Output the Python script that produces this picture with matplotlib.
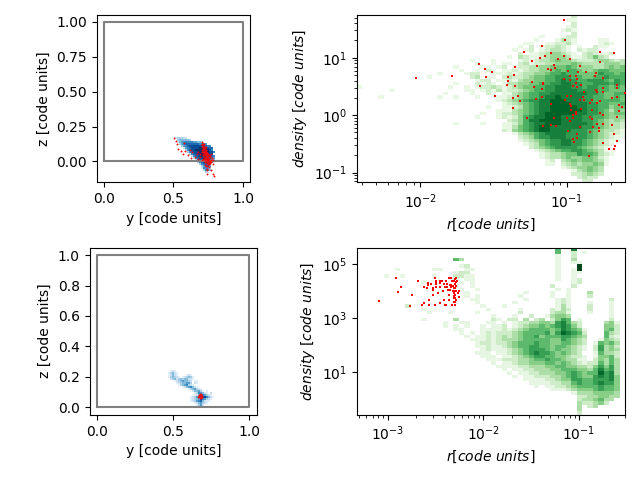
import numpy as np
from matplotlib import pyplot as plt
from matplotlib.ticker import NullLocator

# red particles, log10 values
top_y = [.506,.518,.528,.535,.552,.571,.578,.583,.607,.619,.631,.626,.655,.667,.679,.691,.703,.707,.707,.703,.715,.722,.727,.734,.691,.715,.739,.751,.767,.775,.782,.727,.739,.758,.782,.751,.715,.703,.743,.743,.787,.794,.727,.743,.767,.679,.715,.734,.722,.707,
         .711,.718,.725,.731,.737,.745,.712,.719,.728,.735,.742,.75,.76,.72,.73,.74,.75,.71,.725,.735,.745,.755,.765,.73,.74,.75,.76,.772,.735,.745,.755,
         .708,.714,.72,.726,.732,.738,.744,.716,.723,.729,.736,.743,.748,.754,.76,.741,.747,.753,.759,.765,.771]
top_z = [.168,.146,.122,.091,.074,.055,.132,.074,.043,.079,.067,.026,.031,.055,.067,.031,.139,.122,.103,.079,.091,.067,.043,.079,.055,.019,.031,.055,.055,.026,.012,-.005,-.012,-.017,-.017,.019,.043,.012,-.060,-.089,-.089,-.103,-.029,-.053,-.065,.019,.103,.103,.122,.067,
         .125,.11,.095,.085,.07,.06,.08,.06,.05,.04,.03,.04,.03,.02,.01,.02,.01,.07,.07,.065,.05,.045,.04,.0,-.005,.0,-.005,.01,-.03,-.035,-.04,
         .115,.1,.09,.075,.065,.055,.05,.045,.035,.025,.015,.008,.022,.014,.006,-.012,-.02,-.01,-.018,-.01,-.002]
top_log_r = [-2.03,-1.78,-1.60,-1.56,-1.55,-1.51,-1.59,-1.49,-1.41,-1.40,-1.40,-1.36,-1.35,-1.35,-1.37,-1.37,-1.33,-1.32,-1.29,-1.27,-1.24,-1.24,-1.22,-1.21,-1.20,-1.18,-1.17,-1.17,-1.17,-1.16,-1.16,-1.16,-1.15,-1.13,-1.11,-1.11,-1.11,-1.11,-1.09,-1.09,-1.08,-1.07,-1.06,-1.02,-1.02,-1.01,-1.02,-1.01,-1.00,-1.00,-0.99,-0.99,-0.98,-0.98,-0.98,-0.98,-0.98,-0.97,-0.97,-0.97,-0.96,-0.96,-0.96,-0.96,-0.95,-0.94,-0.94,-0.94,-0.94,-0.93,-0.93,-0.93,-0.93,-0.92,-0.91,-0.91,-0.91,-0.90,-0.90,-0.89,-0.88,-0.88,-0.87,-0.85,-0.84,-0.84,-0.84,-0.83,-0.83,-0.83,-0.82,-0.81,-0.80,-0.80,-0.79,-0.79,-0.79,-0.78,-0.78,-0.77,-0.77,-0.77,-0.77,-0.75,-0.75,-0.75,-0.75,-0.75,-0.75,-0.71,-0.69,-0.69,-0.68,-0.68,-0.68,-0.67,-0.66,-0.66,-0.66,-0.66,-0.66,-0.64,-0.64,-0.62,-0.60]
top_log_d = [.65,.69,.90,.81,.67,.76,.51,.34,.53,.67,.60,.70,.84,.51,.30,.13,.34,.25,1.10,-.05,.95,.58,.49,.28,.86,1.00,1.21,.46,.32,.56,.55,-.19,1.03,.81,.20,-.17,1.09,.79,.88,-.05,.83,-.19,.98,1.65,1.03,1.31,.63,.27,.34,-.05,-.27,.77,.97,.69,.62,.20,-.10,.34,.16,.09,-.05,.51,.01,-.41,-.47,.56,.69,.06,.02,.63,.49,-.33,-.40,.76,.86,-.20,.27,.53,.11,.32,.27,.41,.76,-.71,.22,-.03,-.29,.27,.09,-.06,-.20,.69,.74,.44,-.15,.41,.22,-.23,-.27,1.10,.04,.24,.93,.65,-.48,.48,.41,.01,-.15,-.59,.30,-.17,1.09,-.33,-.59,-.53,-.45,.48,.53,.32,-.03,.18,.08,.15,.39]

bot_y = [.672,.680,.665,.690,.675,.684,.670,.678,.686,.668,.674,.682]
bot_z = [.072,.078,.068,.070,.062,.084,.080,.066,.076,.074,.084,.062]
bot_log_r = [-3.09,-2.91,-2.86,-2.89,-2.77,-2.74,-2.68,-2.64,-2.62,-2.62,-2.59,-2.58,-2.58,-2.57,-2.57,-2.55,-2.53,-2.53,-2.52,-2.50,-2.50,-2.49,-2.49,-2.49,-2.49,-2.47,-2.45,-2.45,-2.45,-2.45,-2.43,-2.42,-2.41,-2.41,-2.40,-2.39,-2.39,-2.40,-2.38,-2.38,-2.37,-2.36,-2.36,-2.36,-2.35,-2.35,-2.34,-2.34,-2.34,-2.33,-2.33,-2.32,-2.32,-2.31,-2.31,-2.31,-2.31,-2.31,-2.31,-2.30,-2.30,-2.30,-2.30,-2.29,-2.29,-2.29,-2.29,-2.28,-2.28,-2.28,-2.28,-2.28,-2.27,-2.26,-2.25,-2.25]
bot_log_d = [3.64,4.47,4.14,3.95,3.43,3.83,4.35,3.46,3.57,4.16,4.10,4.28,4.21,3.68,3.46,4.27,3.83,4.10,4.02,3.46,4.47,4.38,4.33,4.27,4.14,3.91,4.14,4.38,4.28,3.57,4.38,3.99,4.27,3.68,4.14,4.35,3.49,3.46,4.14,4.27,4.02,3.68,3.86,4.47,4.23,4.05,4.47,4.23,4.14,4.36,3.46,3.99,4.17,4.35,4.09,3.93,3.80,3.74,3.59,4.42,4.26,4.11,3.99,3.46,3.59,3.74,3.86,4.47,4.33,4.17,4.01,3.68,4.38,3.93,3.78,3.99]

# gas maps: each row (top to bottom) is a list of (first column, levels 0-9)
blue_top = [
    [(1,"233322")],
    [(2,"3444443")],
    [(2,"2456666655443")],
    [(3,"35677777776665")],
    [(4,"356788888888766")],
    [(5,"256788889999877")],
    [(6,"36788999999986")],
    [(7,"36788999999886")],
    [(8,"367889999988")],
    [(9,"267889998876")],
    [(10,"26788988765")],
    [(11,"3677887654")],
    [(12,"367887652")],
    [(13,"367775")],
    [(14,"35775")],
    [(14,"26653")],
    [(15,"3654")],
    [(16,"32")],
]
blue_bot = [
    [(2,"121")],
    [(1,"13421")],
    [(0,"01242100001210")],
    [(1,"1343210123431")],
    [(2,"2342343442210")],
    [(3,"0123454432011")],
    [(3,"0012344553021")],
    [(5,"0134563210")],
    [(7,"0124564210")],
    [(11,"1345321")],
    [(13,"24453101")],
    [(14,"136542102")],
    [(13,"0124665321")],
    [(12,"1235578864210")],
    [(11,"012345865321")],
    [(12,"1235674211")],
    [(13,"01245321")],
    [(15,"1352")],
    [(17,"41")],
]

green_top = [
    [(40,"2")],
    [(39,"11")],
    [(40,"2")],
    [(39,"12")],
    [(38,"121")],
    [(40,"2")],
    [(34,"1"),(38,"122")],
    [(33,"1"),(37,"1321"),(45,"11")],
    [(31,"11"),(35,"112231"),(45,"121")],
    [(30,"1"),(32,"2"),(34,"122321"),(41,"1"),(44,"211")],
    [(29,"1"),(31,"12"),(34,"12332102122")],
    [(30,"2"),(32,"1123443210232112")],
    [(28,"1032112344431123532")],
    [(13,"000000001000100"+"0012123345"+"4432223443"+"23210")],
    [(13,"000000000100101"+"1023122334"+"4454333344"+"43421")],
    [(13,"000001000011012"+"0122334455"+"5654443345"+"45443")],
    [(13,"000000100102101"+"1212334456"+"5665445665"+"55532")],
    [(13,"001000012200111"+"2123344566"+"7665555766"+"56543")],
    [(13,"100000002301102"+"3223455667"+"7766556676"+"66432")],
    [(13,"000000000122011"+"2134455667"+"8776677765"+"76544")],
    [(13,"000001000212101"+"3344556677"+"8877667776"+"76543")],
    [(0,"1"),(13,"000010010122321"+"2345566778"+"8877677665"+"65433")],
    [(6,"1"),(13,"000000011012131"+"2234566778"+"8887777665"+"55443")],
    [(13,"000100001002101"+"1345667788"+"8888877655"+"66543")],
    [(4,"1"),(13,"001001000100011"+"2345667889"+"8888776655"+"65432")],
    [(13,"000000000000012"+"3456778899"+"9888776666"+"65443")],
    [(13,"000000000000001"+"2345678899"+"9988877665"+"56543")],
    [(13,"000000000001001"+"1235678899"+"9998877664"+"55542")],
    [(13,"000000000000011"+"1345678899"+"9999877653"+"54431")],
    [(13,"000000000010012"+"2345678999"+"9998877654"+"55321")],
    [(13,"000000000100012"+"1246788999"+"8888776654"+"44310")],
    [(28,"2346889999"+"8888776543"+"43210")],
    [(18,"1000010001"),(28,"1246788999"+"8888876543"+"32100")],
    [(27,"1"),(28,"1356789988"+"8888776543"+"32100")],
    [(27,"2"),(28,"1456789988"+"8877765433"+"21000")],
    [(28,"0134567888"+"8777765432"+"21000")],
    [(28,"0023467788"+"8777765432"+"11000")],
    [(28,"0012345677"+"8877654321"+"10")],
    [(28,"0001235677"+"8877654321")],
    [(28,"0000234567"+"7776543210")],
    [(28,"0000012345"+"6677654310")],
    [(28,"0000001233"+"4557665321")],
    [(28,"0000001233"+"4544554210")],
    [(28,"0000000120"+"3454554310")],
    [(28,"0000000110"+"2343445410")],
    [(38,"12344543")],
    [(40,"134543")],
    [(40,"223432")],
    [(41,"2322")],
    [(42,"22")],
]

green_bot = [
    [(37,"5"),(40,"7")],
    [(37,"5"),(40,"2"),(42,"1")],
    [(37,"1"),(40,"2")],
    [(18,"53"),(37,"1"),(40,"3")],
    [(37,"1"),(40,"11")],
    [(19,"12"),(37,"1"),(41,"9")],
    [(7,"1"),(14,"11"),(20,"11"),(37,"1"),(40,"1"),(41,"9")],
    [(18,"122"),(37,"1"),(40,"1"),(41,"1")],
    [(5,"1"),(8,"1"),(14,"1"),(18,"2211"),(37,"1"),(40,"1")],
    [(18,"1"),(20,"11"),(37,"1"),(40,"1"),(41,"2")],
    [(12,"1"),(19,"1"),(21,"1"),(40,"1"),(41,"2")],
    [(18,"1"),(21,"1"),(36,"2"),(40,"2")],
    [(19,"1"),(22,"1"),(37,"1"),(39,"1")],
    [(20,"1"),(31,"1"),(36,"1"),(39,"1"),(43,"3")],
    [(20,"1"),(22,"1"),(30,"1"),(36,"1"),(39,"1"),(43,"2")],
    [(21,"11"),(31,"1"),(37,"1"),(38,"2"),(39,"1"),(47,"2")],
    [(22,"1"),(29,"1"),(37,"12"),(39,"1"),(43,"1"),(47,"1")],
    [(9,"2"),(23,"1"),(27,"1"),(37,"13"),(39,"1"),(43,"2"),(47,"1")],
    [(12,"1"),(24,"1"),(30,"1"),(36,"2"),(37,"1"),(38,"3"),(39,"2"),(43,"2"),(47,"1")],
    [(13,"1"),(17,"1"),(22,"1"),(30,"2"),(36,"233"),(39,"1"),(43,"1"),(47,"1")],
    [(25,"1"),(29,"1"),(32,"2"),(35,"13443"),(47,"1")],
    [(12,"1"),(18,"3"),(25,"21"),(28,"22"),(31,"3"),(33,"23"),(36,"2465"),(41,"1"),(47,"2")],
    [(16,"100110001"+"101012233"+"44367532"+"0000"+"341")],
    [(16,"101010010"+"112012344"+"54567642"+"0000"+"442")],
    [(16,"001100011"+"112123455"+"55457654"+"1000"+"452")],
    [(16,"000101012"+"122234555"+"56468765"+"2000"+"532")],
    [(16,"000010112"+"123234556"+"45556654"+"3000"+"521")],
    [(16,"000001112"+"123334555"+"55446543"+"2001"+"432")],
    [(16,"000000122"+"122345556"+"55445543"+"2015"+"453")],
    [(16,"000000112"+"112345566"+"55455432"+"1026"+"342")],
    [(16,"000000012"+"111234566"+"65454432"+"1026"+"343")],
    [(16,"000000111"+"011234567"+"66545432"+"0015"+"332")],
    [(16,"000000011"+"101123456"+"65544322"+"1014"+"452")],
    [(16,"000000001"+"112223345"+"56554331"+"1024"+"353")],
    [(25,"101123344"+"45545432"+"1225"+"353")],
    [(25,"011112233"+"34455443"+"3246"+"463")],
    [(25,"001011223"+"33445554"+"4357"+"563")],
    [(25,"000101122"+"33344565"+"4558"+"673")],
    [(25,"000010112"+"22334565"+"4467"+"674")],
    [(25,"000000111"+"12234466"+"5566"+"674")],
    [(25,"000000011"+"11223356"+"5567"+"664")],
    [(25,"000000001"+"01122345"+"5556"+"554")],
    [(34,"00111234"+"4456"+"554")],
    [(40,"13"+"3344"+"443")],
    [(41,"2"+"2334"+"433")],
    [(41,"2"+"3345"+"33")],
    [(41,"3"+"2234"+"2")],
    [(41,"3"+"023")],
    [(41,"3")],
    [(41,"2")],
]


def build_grid(rows, nx, ny):
    grid = np.zeros((ny, nx))
    for i, row in enumerate(rows):
        for start, levels in row:
            for j, c in enumerate(levels):
                if start + j < nx:
                    grid[i][start + j] = int(c)
    return np.ma.masked_equal(grid[::-1], 0)


def draw_box(ax, rows, nx, ny, x0, z1, cell, py, pz, s):
    # z1 is the top edge of the map
    xe = x0 + cell * np.arange(nx + 1)
    ze = z1 - cell * np.arange(ny, -1, -1)
    ax.pcolormesh(xe, ze, build_grid(rows, nx, ny), cmap="Blues", vmin=0, vmax=9)
    ax.plot([0, 1, 1, 0, 0], [0, 0, 1, 1, 0], color="gray", lw=1.5)
    ax.scatter(py, pz, s=s, c="r", marker="+", lw=0.6, zorder=3)
    ax.set_xlim(-0.05, 1.05)
    ax.set_aspect("equal")
    ax.set_xlabel("y [code units]")
    ax.set_ylabel("z [code units]")


def draw_phase(ax, rows, xlim, ylim, lr, ld, vmax):
    xe = np.logspace(np.log10(xlim[0]), np.log10(xlim[1]), 51)
    ye = np.logspace(np.log10(ylim[0]), np.log10(ylim[1]), 51)
    ax.pcolormesh(xe, ye, build_grid(rows, 50, 50), cmap="Greens", vmin=0, vmax=vmax)
    ax.scatter(10 ** np.array(lr), 10 ** np.array(ld), s=2, c="r", marker="s", lw=0, zorder=3)
    ax.set_xscale("log")
    ax.set_yscale("log")
    ax.set_xlim(xlim)
    ax.set_ylim(ylim)
    ax.set_xlabel(r"$r [code\ units]$")
    ax.set_ylabel(r"$density\ [code\ units]$")


fig, axs = plt.subplots(2, 2)

draw_box(axs[0][0], blue_top, 22, 18, 0.499, 0.175, 0.0144, top_y, top_z, 4)
axs[0][0].set_ylim(-0.15, 1.05)
axs[0][0].set_yticks([0, 0.25, 0.5, 0.75, 1.0])
axs[0][0].set_xticks([0, 0.5, 1.0])

draw_box(axs[1][0], blue_bot, 26, 19, 0.452, 0.243, 0.0132, bot_y, bot_z, 4)
axs[1][0].set_ylim(-0.05, 1.05)
axs[1][0].set_xticks([0, 0.5, 1.0])

draw_phase(axs[0][1], green_top, (0.0037, 0.25), (0.0676, 55.6), top_log_r, top_log_d, 10)
draw_phase(axs[1][1], green_bot, (4.8e-4, 0.303), (0.263, 4e5), bot_log_r, bot_log_d, 9)
axs[1][1].set_yticks([10, 1e3, 1e5])
axs[1][1].yaxis.set_minor_locator(NullLocator())

fig.tight_layout()
fig.savefig("out.png", dpi=100)
